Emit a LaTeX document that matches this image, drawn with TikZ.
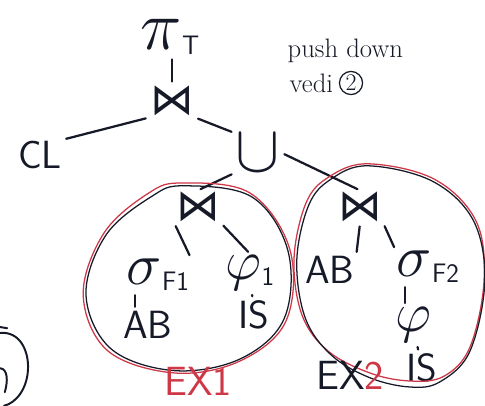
\documentclass[tikz,border=0pt]{standalone}
\usepackage{amsmath,amssymb}
\usepackage{fontspec}
\usepackage{xcolor}
\usetikzlibrary{positioning}
\newfontfamily\symfont{DejaVu Sans}
\definecolor{ink}{RGB}{22,26,40}
\definecolor{inkred}{RGB}{205,55,70}
\newcommand{\hw}{\fontsize{28}{30}\selectfont}
\newcommand{\jn}{{\symfont\fontsize{31}{31}\selectfont ⋈}}
\newcommand{\sub}[1]{\raisebox{-4pt}{\fontsize{19}{21}\selectfont\sffamily #1}}

\begin{document}
\begin{tikzpicture}[line cap=round, line join=round,
  op/.style={inner sep=1pt, text=ink, font=\hw},
  rel/.style={inner sep=1pt, text=ink, font=\hw\sffamily},
  link/.style={draw=ink, line width=1.6pt, shorten <=2pt, shorten >=2pt},
  ring/.style={line width=0.9pt},
  exlabel/.style={inner sep=1pt, font=\fontsize{29}{31}\selectfont\sffamily},
  note/.style={inner sep=1pt, text=ink, font=\fontsize{19}{21}\selectfont, anchor=west}]
  \useasboundingbox (0,0) rectangle (12.125,10.125);

  \node[op] (proj) at (4.25,9.2) {\scalebox{2}{$\pi$}\sub{T}};
  \node[op] (jn0) at (4.3,7.6) {\jn};
  \node[rel] (cl) at (1.0,6.25) {CL};
  \node[op] (un) at (6.45,6.3) {\scalebox{1.9}{$\cup$}};
  \node[op] (j1) at (4.95,4.95) {\jn};
  \node[op] (j2) at (9.0,4.95) {\jn};
  \node[op] (s1) at (3.95,3.25) {\scalebox{1.7}{$\sigma$}\sub{F1}};
  \node[rel] (ab1) at (3.7,2.0) {AB};
  \node[op] (p1) at (6.25,3.3) {\scalebox{1.6}{$\varphi$}\sub{1}};
  \node[rel] (is1) at (6.35,2.25) {IS};
  \node[rel] (ab2) at (8.25,3.375) {AB};
  \node[op] (s2) at (10.7,3.45) {\scalebox{1.7}{$\sigma$}\sub{F2}};
  \node[op] (p2) at (10.325,2.0) {\scalebox{1.6}{$\varphi$}};
  \node[rel] (is2) at (10.55,0.92) {IS};

  \draw[link] (proj.south -| jn0) -- (jn0);
  \draw[link] (jn0.south west) -- (cl.north east);
  \draw[link] (jn0.south east) -- (un.north west);
  \draw[link] (un.south west) -- (j1.north);
  \draw[link] (un.east) -- (j2.north);
  \draw[link] (j1.south west) -- (s1.north east);
  \draw[link] (j1.south east) -- (p1.north);
  \draw[link] (s1.south west) ++(0.25,0) coordinate (s1b) -- (s1b |- ab1.north);
  \draw[link] (p1) -- (is1);
  \draw[link] (j2.south) -- (ab2.north east);
  \draw[link] (j2.south east) -- (s2.north west);
  \draw[link] (s2.south west) ++(0.25,0) coordinate (s2b) -- (s2b |- p2.north);
  \draw[link] (p2) -- (is2);

  \node[note] (push) at (7.15,8.85) {push down};
  \node[note] (vedi) at (7.2,8.05) {vedi};
  \node[draw=ink, line width=0.9pt, circle, inner sep=1pt, text=ink,
        font=\fontsize{17}{19}\selectfont, right=1mm of vedi] (ref) {2};

  \draw[ring, inkred] plot[smooth cycle, tension=0.6] coordinates {
    (4.55,5.55) (6.25,5.3) (7.25,3.875) (7.15,2.1) (6.0,1.1) (4.375,0.8)
    (2.7,1.35) (2.08,2.75) (2.6,4.3) (3.72,5.3)};
  \draw[ring, ink] plot[smooth cycle, tension=0.6] coordinates {
    (4.6,5.48) (6.3,5.2) (7.2,3.85) (7.1,2.15) (6.0,1.15) (4.35,0.86)
    (2.78,1.4) (2.15,2.75) (2.65,4.25) (3.8,5.22)};

  \draw[ring, inkred] plot[smooth cycle, tension=0.6] coordinates {
    (9.2,6.03) (10.85,5.65) (11.9,4.6) (12.1,3.1) (11.75,1.45) (11.1,0.72)
    (10.25,0.6) (9.25,0.8) (8.2,1.35) (7.55,2.25) (7.35,3.65) (7.65,5.05) (8.22,5.7)};
  \draw[ring, ink] plot[smooth cycle, tension=0.6] coordinates {
    (9.2,5.98) (10.8,5.6) (11.83,4.62) (12.12,3.1) (11.75,1.35) (11.0,0.58)
    (10.25,0.45) (9.25,0.68) (8.28,1.25) (7.63,2.18) (7.42,3.62) (7.72,5.0) (8.28,5.65)};

  \node[exlabel, text=inkred] (ex1) at (4.95,0.58) {EX1};
  \node[exlabel, text=ink] (ex2) at (8.75,0.75) {EX\textcolor{inkred}{2}};

  \draw[ink, line width=1.4pt] (0,1.95) -- (0.18,1.92);
  \draw[ink, line width=1.4pt] (0,1.8) .. controls (0.5,1.85) and (0.72,1.35) .. (0.7,0.9)
    .. controls (0.68,0.4) and (0.4,0.05) .. (0.1,-0.02);
  \draw[ink, line width=1.4pt] (0,0.92) .. controls (0.2,0.9) and (0.2,0.6) .. (0.12,0.32);
\end{tikzpicture}
\end{document}
